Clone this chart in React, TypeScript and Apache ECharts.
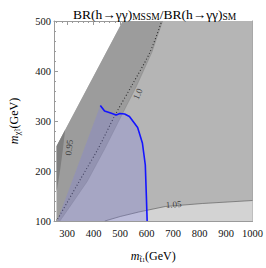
import React, { useEffect, useRef } from "react";
import * as echarts from "echarts";

// axis ticks
const xTicks = [300, 400, 500, 600, 700, 800, 900, 1000];
const yTicks = [100, 200, 300, 400, 500];
const xMinorTicks = [260, 280, 320, 340, 360, 380, 420, 440, 460, 480, 520, 540, 560, 580, 620, 640, 660, 680, 720, 740, 760, 780, 820, 840, 860, 880, 920, 940, 960, 980];

// boundaries, points are [m_stop, m_chi]
const kinematicEdge = [[260, 250], [510, 500]];
const contour095 = [[292, 282], [284, 245], [274, 205], [266, 178], [260, 160]];
const shadeEdge100 = [[660, 500], [620, 438], [560, 368], [503, 309], [442, 245], [375, 179], [310, 129], [272, 100]];
const dotted100 = [[264, 104], [346, 180], [417, 245], [481, 312], [545, 372], [613, 438], [657, 500]];
const contour105 = [[442, 100], [500, 109], [570, 118], [670, 129], [810, 135], [1000, 141]];
const blueLine = [[425, 331], [441, 320], [464, 316], [485, 312], [499, 315], [517, 314], [535, 309], [566, 287], [584, 256], [595, 212], [599, 150], [602, 100]];
const blueCorner = [262, 100];

// contour labels [m_stop, m_chi, text, angle]
const contourLabels: [number, number, string, number][] = [
  [307, 247, "0.95", 84],
  [567, 354, "1.0", 66],
  [702, 133, "1.05", 4],
];

const X_MIN = 250, X_MAX = 1000, Y_MIN = 100, Y_MAX = 500;
const FRAME = "#9a9a9a";
const SERIF = "'Liberation Serif', 'DejaVu Serif', serif";

const polys = {
  light: [[260, Y_MIN], kinematicEdge[0], kinematicEdge[1], [X_MAX, Y_MAX], [X_MAX, Y_MIN]],
  medium: [[260, Y_MIN], kinematicEdge[0], kinematicEdge[1], ...shadeEdge100],
  dark: [kinematicEdge[0], ...contour095],
  lightest: [...contour105, [X_MAX, Y_MIN]],
  blue: [blueCorner, ...blueLine],
};

function polySeries(pts: number[][], fill: string, z: number) {
  return {
    type: "custom",
    z,
    silent: true,
    data: [pts[0]],
    renderItem: (_p: any, api: any) => ({
      type: "polygon",
      shape: { points: pts.map((p) => api.coord(p)) },
      style: { fill, stroke: "none" },
    }),
  };
}

const nameRich = {
  m: { fontFamily: SERIF, fontStyle: "italic", fontSize: 12, color: "#000", lineHeight: 14 },
  s: { fontFamily: SERIF, fontSize: 9, color: "#000", lineHeight: 6, verticalAlign: "bottom" },
  ss: { fontFamily: SERIF, fontSize: 6, color: "#000", lineHeight: 2, verticalAlign: "bottom" },
  n: { fontFamily: SERIF, fontSize: 12, color: "#000", lineHeight: 14 },
};

export default function App() {
  const ref = useRef<HTMLDivElement>(null);
  useEffect(() => {
    if (!ref.current) return;
    const chart = echarts.init(ref.current, undefined, { renderer: "svg" });
    const axisCommon = {
      type: "value",
      min: X_MIN,
      max: X_MAX,
      splitLine: { show: false },
    };
    const yCommon = {
      type: "value",
      min: Y_MIN,
      max: Y_MAX,
      interval: 100,
      splitLine: { show: false },
    };
    chart.setOption({
      animation: false,
      title: {
        text: "{a|BR(h→γγ)}{s|MSSM}{a|/BR(h→γγ)}{s|SM}",
        left: 68,
        top: 1,
        textStyle: {
          fontWeight: "normal",
          rich: {
            a: { fontFamily: SERIF, fontSize: 13.5, fontWeight: "normal", color: "#000", lineHeight: 16 },
            s: { fontFamily: SERIF, fontSize: 9.5, fontWeight: "normal", color: "#000", lineHeight: 8, verticalAlign: "bottom" },
          },
        },
      },
      grid: { left: 43, right: 13, top: 21, bottom: 40, containLabel: false },
      xAxis: [
        {
          ...axisCommon,
          position: "bottom",
          axisLine: { show: true, lineStyle: { color: FRAME, width: 1 } },
          axisTick: { show: true, inside: true, length: 4, customValues: xTicks, lineStyle: { color: FRAME } },
          axisLabel: {
            customValues: xTicks,
            formatter: (v: number) => String(v),
            fontFamily: SERIF,
            fontSize: 10.5,
            color: "#111",
            margin: 7,
          },
          name: "{m|m}{s|t̃}{ss|1}{n|(GeV)}",
          nameLocation: "middle",
          nameGap: 28,
          nameTextStyle: { rich: nameRich },
        },
        {
          ...axisCommon,
          position: "bottom",
          axisLine: { show: false },
          axisTick: { show: true, inside: true, length: 2, customValues: xMinorTicks, lineStyle: { color: FRAME } },
          axisLabel: { show: false },
        },
        {
          ...axisCommon,
          position: "top",
          axisLine: { show: true, lineStyle: { color: FRAME, width: 1 } },
          axisTick: { show: true, inside: true, length: 4, customValues: xTicks, lineStyle: { color: FRAME } },
          axisLabel: { show: false },
        },
        {
          ...axisCommon,
          position: "top",
          axisLine: { show: false },
          axisTick: { show: true, inside: true, length: 2, customValues: xMinorTicks, lineStyle: { color: FRAME } },
          axisLabel: { show: false },
        },
      ],
      yAxis: [
        {
          ...yCommon,
          position: "left",
          axisLine: { show: true, lineStyle: { color: FRAME, width: 1 } },
          axisTick: { show: true, inside: true, length: 4, lineStyle: { color: FRAME } },
          minorTick: { show: true, splitNumber: 5, length: 2, lineStyle: { color: FRAME } },
          axisLabel: {
            customValues: yTicks,
            formatter: (v: number) => String(v),
            fontFamily: SERIF,
            fontSize: 10.5,
            color: "#111",
            margin: 3,
          },
          name: "{m|m}{s|χ̃}{ss|1}{n|(GeV)}",
          nameLocation: "middle",
          nameGap: 33,
          nameRotate: 90,
          nameTextStyle: { rich: nameRich },
        },
        {
          ...yCommon,
          position: "right",
          axisLine: { show: true, lineStyle: { color: FRAME, width: 1 } },
          axisTick: { show: true, inside: true, length: 4, lineStyle: { color: FRAME } },
          minorTick: { show: true, splitNumber: 5, length: 2, lineStyle: { color: FRAME } },
          axisLabel: { show: false },
        },
      ],
      series: [
        polySeries(polys.light, "#b5b5b5", 1),
        polySeries(polys.medium, "#9c9c9c", 2),
        polySeries(polys.dark, "#7e7e7e", 3),
        polySeries(polys.lightest, "#d3d3d3", 4),
        {
          type: "line",
          z: 5,
          silent: true,
          data: contour105,
          showSymbol: false,
          lineStyle: { color: "#6e6e6e", width: 0.8 },
        },
        {
          type: "line",
          z: 5,
          silent: true,
          data: shadeEdge100,
          showSymbol: false,
          lineStyle: { color: "#8a8a8a", width: 0.6 },
        },
        {
          type: "line",
          z: 6,
          silent: true,
          data: dotted100,
          showSymbol: false,
          smooth: 0.3,
          lineStyle: { color: "#2a2a2a", width: 1.1, type: [1, 2.2] },
        },
        polySeries(polys.blue, "rgba(125,125,235,0.27)", 7),
        {
          type: "line",
          z: 8,
          silent: true,
          data: blueLine,
          showSymbol: false,
          lineStyle: { color: "#1414ff", width: 1.6 },
        },
        {
          type: "scatter",
          z: 9,
          silent: true,
          symbolSize: 0,
          data: contourLabels.map(([x, y, t, a]) => ({
            value: [x, y],
            label: {
              show: true,
              position: "inside",
              formatter: t,
              rotate: a,
              fontFamily: SERIF,
              fontSize: 9,
              color: "#222",
            },
          })),
        },
      ],
    });
    return () => chart.dispose();
  }, []);
  return (
    <div
      ref={ref}
      style={{ position: "fixed", left: 0, top: 0, width: 266, height: 268, background: "#fff" }}
    />
  );
}
